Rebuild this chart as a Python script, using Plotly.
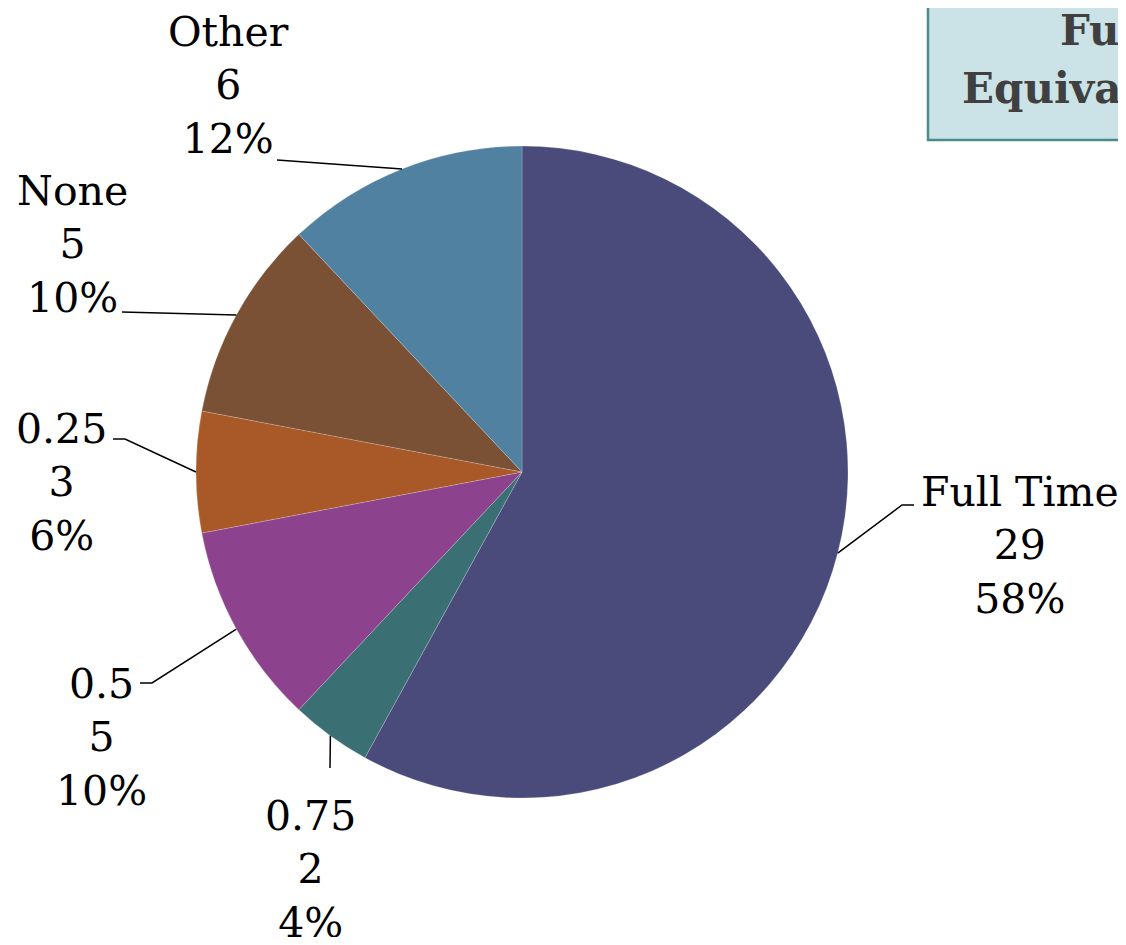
import math
import plotly.graph_objects as go

# ---- data ----
labels = ["Full Time", "0.75", "0.5", "0.25", "None", "Other"]
values = [29, 2, 5, 3, 5, 6]
colors = ["#4A4B7B", "#3A7074", "#8C428C", "#A95827", "#7B5136", "#5181A0"]
title_lines = ["Full Time", "Equivalent Positions"]

# ---- layout (pixels, in the 1126x945 window) ----
OFF = 8                           # page body margin
W, H = 1126 - OFF, 945 - 2 * OFF  # figure size (no scrollbar)
CX, CY, R = 522, 472, 326
FONT = "DejaVu Serif"

# label block centres and leader-line bend points (window pixels)
label_pos = {
    "Full Time": (1020, 545),
    "0.75": (310, 869),
    "0.5": (101, 737),
    "0.25": (61, 483),
    "None": (72, 244),
    "Other": (228, 85),
}
leader_pts = {
    "Full Time": [(902, 505), (914, 505)],
    "0.75": [(330, 768)],
    "0.5": [(152, 683), (140, 683)],
    "0.25": [(125, 439), (113, 439)],
    "None": [(122, 312)],
    "Other": [(277, 160)],
}


def px(x):
    return (x - OFF) / W


def py(y):
    return 1 - (y - OFF) / H


fig = go.Figure()
fig.add_trace(go.Pie(
    labels=labels, values=values, sort=False, direction="clockwise", rotation=0,
    marker=dict(colors=colors, line=dict(color="rgba(255,255,255,0.4)", width=0.5)),
    textinfo="none", hoverinfo="label+value+percent", showlegend=False,
    domain=dict(x=[px(CX - R), px(CX + R)], y=[py(CY + R), py(CY - R)]),
))

total = sum(values)
annotations = []
shapes = []
cum = 0
for lab, v in zip(labels, values):
    start = 90 - 360 * cum / total
    cum += v
    end = 90 - 360 * cum / total
    mid = math.radians((start + end) / 2)
    ax, ay = CX + R * math.cos(mid), CY - R * math.sin(mid)
    pts = [(ax, ay)] + leader_pts[lab]
    path = "M " + " L ".join(f"{px(x):.5f},{py(y):.5f}" for x, y in pts)
    shapes.append(dict(type="path", xref="paper", yref="paper", path=path,
                       line=dict(color="black", width=1.5)))
    pct = round(100 * v / total)
    lx, ly = label_pos[lab]
    annotations.append(dict(
        x=px(lx), y=py(ly), xref="paper", yref="paper", showarrow=False,
        xanchor="center", yanchor="middle", align="center",
        text=f"{lab}<br>{v}<br>{pct}%",
        font=dict(family=FONT, size=41, color="black"),
    ))

# title box
shapes.append(dict(type="rect", xref="paper", yref="paper",
                   x0=px(928), x1=px(1140), y0=py(140), y1=py(-10),
                   fillcolor="#CBE3E6", line=dict(color="#4A8A8C", width=2.5),
                   layer="below"))
annotations.append(dict(x=px(1058), y=py(30), xref="paper", yref="paper",
                        showarrow=False, xanchor="left", yanchor="middle",
                        text=f"<b>{title_lines[0]}</b>",
                        font=dict(family=FONT, size=42, color="#404040")))
annotations.append(dict(x=px(960), y=py(88), xref="paper", yref="paper",
                        showarrow=False, xanchor="left", yanchor="middle",
                        text=f"<b>{title_lines[1]}</b>",
                        font=dict(family=FONT, size=42, color="#404040")))

fig.update_layout(
    width=W, height=H, margin=dict(l=0, r=0, t=0, b=0),
    paper_bgcolor="white", plot_bgcolor="white",
    shapes=shapes, annotations=annotations,
)
fig.write_html("out.html")
